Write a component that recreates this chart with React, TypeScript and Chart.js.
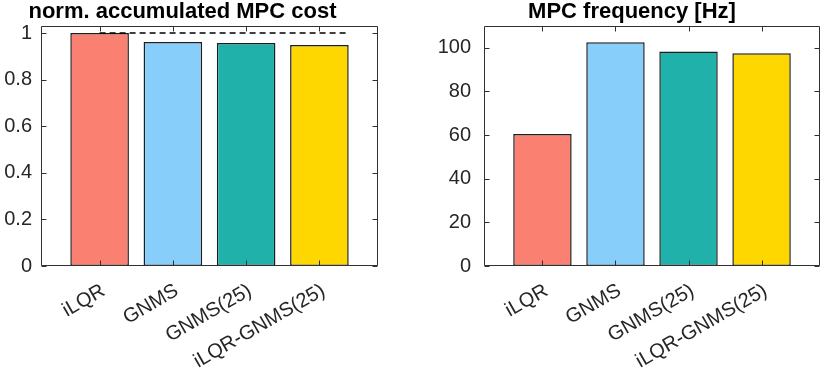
import React, { useEffect, useRef } from "react";
import { Chart, registerables } from "chart.js";

Chart.register(...registerables);

// ---- data ----
const categories = ["iLQR", "GNMS", "GNMS(25)", "iLQR-GNMS(25)"];
const barColors = ["#FA8072", "#87CEFA", "#20B2AA", "#FFD700"];
const costValues = [1.0, 0.961, 0.957, 0.948];
const costRefLevel = 1;
const costRefX = [1, 4.4];
const freqValues = [60.5, 102.6, 98.3, 97.5];
const costTicks = [0, 0.2, 0.4, 0.6, 0.8, 1];
const freqTicks = [0, 20, 40, 60, 80, 100];
const costTitle = "norm. accumulated MPC cost";
const freqTitle = "MPC frequency [Hz]";

const positions = categories.map((_, i) => i + 1);
const FONT = "'Liberation Sans', Arial, Helvetica, sans-serif";
const TEXT = "#262626";

const boxPlugin = {
  id: "boxPlugin",
  afterDatasetsDraw(chart: any) {
    const { ctx, chartArea: a, scales } = chart;
    const tl = 5;
    ctx.save();
    ctx.strokeStyle = "#303030";
    ctx.lineWidth = 1;
    const L = Math.round(a.left) + 0.5;
    const R = Math.round(a.right) - 0.5;
    const T = Math.round(a.top) + 0.5;
    const B = Math.round(a.bottom) - 0.5;
    ctx.beginPath();
    ctx.rect(L, T, R - L, B - T);
    scales.x.ticks.forEach((t: any) => {
      const px = Math.round(scales.x.getPixelForValue(t.value)) + 0.5;
      ctx.moveTo(px, B);
      ctx.lineTo(px, B - tl);
      ctx.moveTo(px, T);
      ctx.lineTo(px, T + tl);
    });
    scales.y.ticks.forEach((t: any) => {
      const py = Math.round(scales.y.getPixelForValue(t.value)) + 0.5;
      ctx.moveTo(L, py);
      ctx.lineTo(L + tl, py);
      ctx.moveTo(R, py);
      ctx.lineTo(R - tl, py);
    });
    ctx.stroke();
    ctx.restore();
  },
};

const titlePlugin = {
  id: "plotTitle",
  afterDraw(chart: any, _args: any, opts: any) {
    const { ctx, chartArea: a } = chart;
    ctx.save();
    ctx.font = `bold ${opts.size}px ${FONT}`;
    ctx.fillStyle = "#000";
    ctx.textAlign = "center";
    ctx.textBaseline = "alphabetic";
    ctx.fillText(opts.text, (a.left + a.right) / 2 + opts.offset, opts.baseline);
    ctx.restore();
  },
};

function makeConfig(
  values: number[],
  yMax: number,
  yTicks: number[],
  title: string,
  titleOffset: number,
  yWidth: number,
  rightPad: number,
  yPad: number,
  withRef: boolean
): any {
  const datasets: any[] = [
    {
      type: "bar",
      data: values.map((v, i) => ({ x: positions[i], y: v })),
      backgroundColor: barColors,
      borderColor: "#1e1e1e",
      borderWidth: 1.5,
      borderSkipped: false,
      barPercentage: 0.8,
      categoryPercentage: 1,
      order: 2,
    },
  ];
  if (withRef) {
    datasets.push({
      type: "line",
      data: costRefX.map((x) => ({ x, y: costRefLevel })),
      borderColor: "#000",
      borderWidth: 1.3,
      borderDash: [6, 4],
      pointRadius: 0,
      fill: false,
      order: 1,
    });
  }
  return {
    type: "bar",
    data: { datasets },
    plugins: [boxPlugin, titlePlugin],
    options: {
      animation: false,
      responsive: false,
      devicePixelRatio: 1,
      layout: { padding: { top: 26, right: rightPad, left: 0, bottom: 0 } },
      plugins: {
        legend: { display: false },
        tooltip: { enabled: false },
        title: { display: false },
        plotTitle: { text: title, offset: titleOffset, baseline: 18, size: 22 },
      },
      scales: {
        x: {
          type: "linear",
          min: 0.2,
          max: 4.8,
          offset: false,
          grid: { display: false, drawTicks: false, offset: false },
          border: { display: false },
          afterBuildTicks: (s: any) => {
            s.ticks = positions.map((v) => ({ value: v }));
          },
          afterFit: (s: any) => {
            s.height = 104;
          },
          ticks: {
            autoSkip: false,
            minRotation: 30,
            maxRotation: 30,
            padding: 13,
            labelOffset: 4,
            color: TEXT,
            font: { family: FONT, size: 20 },
            callback: (v: number) => categories[Math.round(v) - 1] ?? "",
          },
        },
        y: {
          type: "linear",
          min: 0,
          max: yMax,
          grid: { display: false, drawTicks: false },
          border: { display: false },
          afterBuildTicks: (s: any) => {
            s.ticks = yTicks.map((v) => ({ value: v }));
          },
          afterFit: (s: any) => {
            s.width = yWidth;
          },
          ticks: {
            padding: yPad,
            color: TEXT,
            font: { family: FONT, size: 20 },
            callback: (v: number) => String(Number(v.toFixed(2))),
          },
        },
      },
    },
  };
}

function ChartBox(props: { config: any; left: number }) {
  const ref = useRef<HTMLCanvasElement>(null);
  useEffect(() => {
    if (!ref.current) return;
    const chart = new Chart(ref.current, props.config);
    return () => chart.destroy();
  }, []);
  return (
    <div style={{ position: "absolute", left: props.left, top: 0, width: 411, height: 370 }}>
      <canvas ref={ref} width={411} height={370} style={{ display: "block" }} />
    </div>
  );
}

export default function App() {
  useEffect(() => {
    document.body.style.margin = "0";
  }, []);
  const costCfg = makeConfig(costValues, 1.03, costTicks, costTitle, -27, 41, 33, 9, true);
  const freqCfg = makeConfig(freqValues, 110, freqTicks, freqTitle, -20, 73, 2, 13, false);
  return (
    <div style={{ position: "relative", width: 822, height: 370, background: "#fff" }}>
      <ChartBox config={costCfg} left={0} />
      <ChartBox config={freqCfg} left={411} />
    </div>
  );
}
